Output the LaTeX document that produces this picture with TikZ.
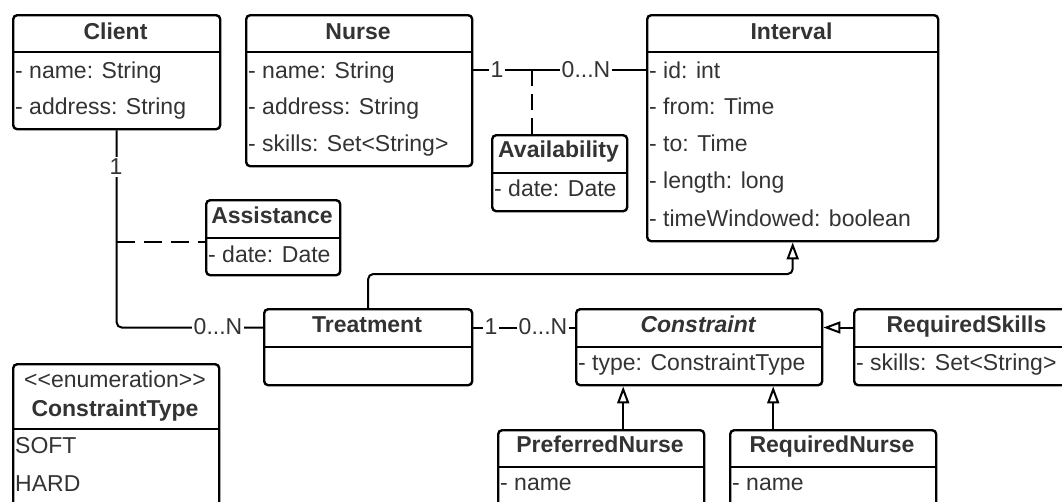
\documentclass[tikz,border=0pt]{standalone}
\usepackage{fontspec}
\setmainfont{Liberation Sans}
\usetikzlibrary{arrows.meta,calc}
\definecolor{ink}{HTML}{333333}

\tikzset{
  cls/.style={draw=black, line width=2.4pt, rounded corners=4pt, inner sep=0pt,
    anchor=north west},
  sep/.style={line width=2.4pt},
  title/.style={anchor=base, inner sep=0pt, text=ink, font=\fontsize{23}{27}\selectfont\bfseries},
  attr/.style={anchor=base west, inner sep=0pt, text=ink, font=\fontsize{23}{27}\selectfont},
  link/.style={line width=2pt, draw=black},
  dashlink/.style={link, dash pattern=on 18pt off 9pt},
  gen/.style={link, -{Triangle[open, length=17pt, width=12pt, line width=2pt, sharp]}},
  mult/.style={fill=white, inner sep=2pt, text=ink, font=\fontsize{23}{27}\selectfont},
}

% \umlclass{name}{x1}{y1}{x2}{y2}{y of header rule}{title baseline}{title}
\newcommand\umlclass[8]{%
  \node[cls, minimum width={(#4)-(#2)}, minimum height={(#5)-(#3)}] (#1) at (#2,#3) {};
  \draw[sep] (#2,#6) -- (#4,#6);
  \coordinate (#1-h) at ({((#2)+(#4))/2},{((#3)+(#6))/2});
  \node[title] (#1-t) at ({((#2)+(#4))/2},#7) {#8};
}

\begin{document}
\begin{tikzpicture}[x=1pt, y=-1pt]
\useasboundingbox[fill=white] (0,0) rectangle (1062,501);

% ---------- classes ----------
\umlclass{client}{12}{14}{219}{128}{52}{39}{Client}
\node[attr] (client-1) at (15,78)  {- name: String};
\node[attr] (client-2) at (15,114) {- address: String};

\umlclass{nurse}{245}{14}{471}{165}{52}{39}{Nurse}
\node[attr] (nurse-1) at (248,78)  {- name: String};
\node[attr] (nurse-2) at (248,114) {- address: String};
\node[attr] (nurse-3) at (248,151) {- skills: Set<String>};

\umlclass{interval}{646}{14}{937}{240}{52}{39}{Interval}
\node[attr] (interval-1) at (649,78)  {- id: int};
\node[attr] (interval-2) at (649,114) {- from: Time};
\node[attr] (interval-3) at (649,151) {- to: Time};
\node[attr] (interval-4) at (649,188) {- length: long};
\node[attr] (interval-5) at (649,226) {- timeWindowed: boolean};
\coordinate (interval-r1) at (646,70);

\umlclass{avail}{491}{134}{626}{210}{173}{157}{Availability}
\node[attr] (avail-1) at (494,196) {- date: Date};

\umlclass{assist}{205}{199}{339}{274}{238}{223}{Assistance}
\node[attr] (assist-1) at (208,262) {- date: Date};
\coordinate (assist-link) at (205,242);

\umlclass{treat}{263}{308}{471}{384}{347}{332}{Treatment}

\umlclass{cons}{575}{308}{821}{384}{347}{332}{\itshape Constraint}
\node[attr] (cons-1) at (578,370) {- type: ConstraintType};

\umlclass{rskills}{853}{308}{1080}{384}{347}{332}{RequiredSkills}
\node[attr] (rskills-1) at (856,370) {- skills: Set<String>};

\umlclass{pnurse}{497}{429}{703}{525}{467}{452}{PreferredNurse}
\node[attr] (pnurse-1) at (500,490) {- name};

\umlclass{rnurse}{729}{429}{935}{525}{467}{452}{RequiredNurse}
\node[attr] (rnurse-1) at (732,490) {- name};

% enumeration
\node[cls, minimum width=206pt, minimum height=180pt] (ctype) at (12,363) {};
\draw[sep] (12,429) -- (218,429);
\node[attr, anchor=base] (ctype-s) at (115,387) {<{}<enumeration>{}>};
\node[title] (ctype-t) at (115,416) {ConstraintType};
\node[attr] (ctype-1) at (15,453) {SOFT};
\node[attr] (ctype-2) at (15,491) {HARD};

% ---------- connectors ----------
% Client -- Treatment
\draw[link, rounded corners=5pt] (client.south) |- (treat.west |- treat-h);
\node[mult] (m-client) at (116,167) {1};
\node[mult] (m-treat) at (218,327) {0...N};

% Assistance association class
\draw[dashlink] (client.south |- assist-link) -- (assist-link);

% Nurse -- Interval
\draw[link] (nurse.east |- interval-r1) -- (interval-r1);
\node[mult] (m-nurse) at (497,70) {1};
\node[mult] (m-interval) at (586,70) {0...N};

% Availability association class
\coordinate (avail-link) at ($(avail.north)+(-27.5,0)$);
\draw[dashlink, dash pattern=on 16pt off 8pt] (avail-link |- interval-r1) -- (avail-link);

% Treatment -- Constraint
\draw[link] (treat.east |- treat-h) -- (cons.west |- treat-h);
\node[mult] (m-t1) at (491,327) {1};
\node[mult] (m-c1) at (543,327) {0...N};

% Treatment generalises Interval
\draw[gen, rounded corners=5pt] (treat.north) |- (interval.south |- 0,274) -- (interval.south);

% Constraint subclasses
\draw[gen] (rskills.west |- rskills-h) -- (cons.east |- rskills-h);
\coordinate (pn-top) at ($(pnurse.north)+(22,0)$);
\draw[gen] (pn-top) -- (pn-top |- cons.south);
\coordinate (rn-top) at ($(rnurse.north)+(-60,0)$);
\draw[gen] (rn-top) -- (rn-top |- cons.south);
\end{tikzpicture}
\end{document}
